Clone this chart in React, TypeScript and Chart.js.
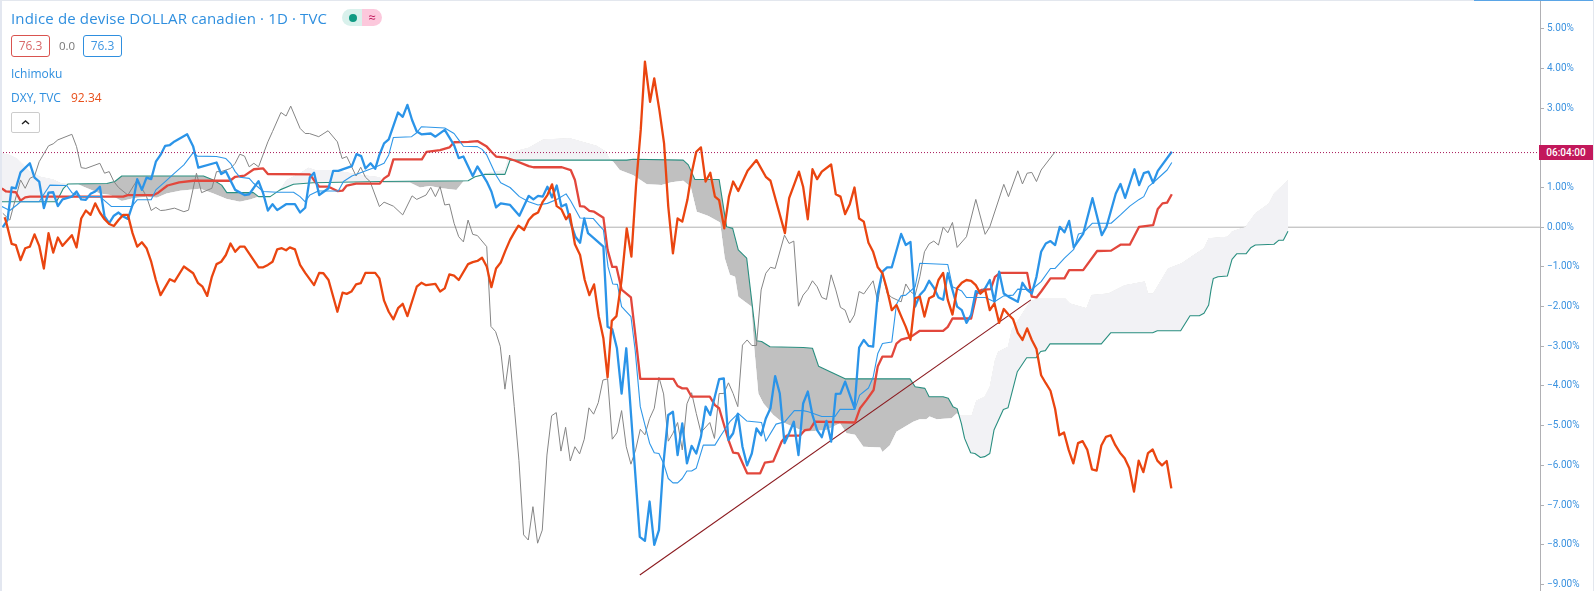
import React, { useEffect, useRef } from "react";
import { Chart, registerables } from "chart.js";

Chart.register(...registerables);

type P = [number, number];

// [session index, % change]
const dxyComparison: P[] = [[1,0.25],[1.3,0.14],[2.5,-0.42],[3.4,-0.45],[4.4,-0.83],[5.4,-0.53],[6.4,-0.49],[7.4,-0.18],[8.4,-0.47],[9.4,-1.04],[10.4,-0.15],[11.4,-0.64],[12.4,-0.26],[13.4,-0.47],[15.4,-0.2],[16.4,-0.51],[17.4,0.22],[18.4,0.42],[19.4,0.31],[20.4,0.6],[21.4,0.37],[22.4,0.2],[23.4,0.08],[24.4,0.03],[25.4,0.18],[26.4,0.31],[27.4,0.31],[28.4,-0.15],[29.4,-0.49],[30.4,-0.38],[31.4,-0.53],[32.4,-0.87],[33.4,-1.33],[34.4,-1.71],[35.4,-1.51],[36.4,-1.31],[37.4,-1.37],[39.4,-0.99],[41.4,-1.16],[42.4,-1.4],[43.4,-1.5],[44.4,-1.73],[45.4,-1.25],[46.4,-0.93],[47.4,-0.87],[48.4,-0.7],[49.4,-0.41],[50.4,-0.62],[51.4,-0.49],[52.4,-0.49],[55.4,-1.01],[56.4,-1.01],[57.4,-0.95],[58.4,-0.87],[59.4,-0.56],[60.4,-0.53],[61.3,-0.58],[62.1,-0.51],[63.2,-0.56],[64.3,-0.95],[65.4,-1.15],[67.3,-1.46],[68.4,-1.15],[69.3,-1.16],[70.4,-1.33],[72.3,-2.13],[73.4,-1.65],[74.3,-1.68],[75.3,-1.62],[76.3,-1.44],[77.3,-1.41],[78.3,-1.15],[80.4,-1.15],[81.3,-1.29],[82.3,-1.85],[83.3,-2.13],[84.3,-2.32],[85.3,-2.04],[86.3,-1.93],[87.3,-2.24],[89.3,-1.5],[90.3,-1.4],[91.3,-1.46],[93.3,-1.43],[94.3,-1.62],[95.3,-1.54],[96.3,-1.19],[97.3,-1.22],[98.3,-1.33],[100.3,-0.93],[101.3,-0.88],[102.3,-0.85],[103.3,-0.77],[104.3,-0.99],[105.3,-1.51],[106.3,-1.04],[107.3,-0.89],[108.3,-0.59],[109.3,-0.32],[110.3,-0.11],[111.1,0.04],[112.3,-0.07],[113.3,0.18],[114.3,0.31],[115.3,0.37],[116.3,0.64],[117.3,0.81],[118.3,1.08],[119.3,0.53],[120.3,0.45],[121.3,0.2],[122.1,0.33],[123.2,-0.43],[124.3,-0.7],[125.3,-1.33],[126.3,-1.71],[127.3,-1.44],[128.3,-2.25],[129.3,-2.8],[130.2,-3.78],[131.1,-2.36],[132.1,-2.24],[133.2,-1.33],[134.3,-0.03],[135.3,-0.74],[136.3,1.06],[137.3,2.45],[138.2,4.17],[139.3,3.16],[140.2,3.75],[141.3,2.95],[142.3,2.11],[143.2,0.52],[144.2,-0.66],[145.2,0.22],[146.2,0.14],[147.3,0.69],[148.2,1.36],[149.2,1.9],[150.2,2.01],[151.2,1.15],[152.2,1.37],[153.2,0.77],[154.1,0.68],[155.2,-0.03],[156.2,0.77],[157.1,1.15],[158.2,0.91],[160.2,1.42],[162.1,1.69],[164.1,1.27],[165.1,1.17],[168.2,-0.15],[169.1,0.73],[171.2,1.4],[172.1,1.02],[173.1,0.2],[174.1,1.46],[175.1,1.21],[176.1,1.4],[178.1,1.58],[179.1,0.83],[180.1,0.77],[181.1,0.33],[182.1,0.58],[183.1,1.0],[184.1,0.22],[185.1,0.14],[186.1,-0.39],[187.1,-0.62],[188.1,-1.01],[189.1,-1.16],[190.1,-1.58],[191.1,-2.09],[192.1,-1.96],[193.1,-2.24],[194.1,-2.51],[195.1,-2.84],[196.1,-1.79],[197.1,-1.75],[198.1,-2.25],[199.1,-1.79],[200.1,-1.73],[201.1,-1.33],[202.1,-1.15],[203.1,-1.83],[204.1,-2.2],[205.1,-1.54],[206.1,-1.4],[207.1,-1.33],[208.1,-1.35],[209.1,-1.46],[210.1,-1.67],[211.1,-1.57],[212.1,-2.09],[213.1,-1.92],[214.1,-2.41],[215.1,-2.06],[216.1,-2.2],[217.1,-2.32],[218.1,-2.66],[219.1,-2.84],[220.1,-2.55],[221.1,-2.84],[222.1,-3.07],[223.1,-3.73],[224.1,-3.93],[225.1,-4.12],[226.1,-4.58],[227,-5.24],[228,-5.17],[229,-5.61],[230,-5.95],[231,-5.44],[232,-5.39],[233,-5.61],[234,-6.1],[235,-6.13],[236,-5.5],[237,-5.28],[238,-5.24],[239,-5.49],[240,-5.68],[241,-5.82],[242,-6.07],[243,-6.66],[244,-5.88],[245,-6.17],[246,-5.69],[247,-5.6],[248,-5.88],[249,-6.0],[250,-5.89],[251,-6.58]];

const closeLine: P[] = [[0.6,0],[1.6,0.18],[2.5,1.0],[3.4,0.98],[4.4,1.38],[6.4,1.61],[7.4,1.25],[8.4,1.15],[9.4,0.48],[10.4,0.87],[11.4,0.88],[12.4,0.53],[13.4,0.7],[15.4,0.77],[16.4,0.9],[17.4,0.7],[18.4,0.69],[19.4,0.84],[20.4,0.9],[21.4,1.02],[22.4,0.27],[23.4,0.1],[24.4,0.29],[25.4,0.37],[26.4,0.27],[27.4,0.21],[28.4,0.56],[29.4,1.21],[30.4,0.94],[31.4,1.25],[32.4,1.21],[33.4,1.65],[34.4,1.82],[35.4,2.05],[36.4,2.07],[37.4,2.16],[40.1,2.34],[41.4,2.03],[42.5,1.5],[46.4,1.63],[47.4,1.34],[48.4,1.41],[50.4,0.94],[52.4,0.81],[53.4,0.83],[55.4,1.16],[56.4,0.85],[57.4,0.42],[58.4,0.58],[59.4,0.43],[61.3,0.58],[63.2,0.58],[64.3,0.37],[65.4,0.49],[66.4,1.26],[67.3,1.37],[68.4,0.81],[70.4,0.98],[71.4,1.42],[72.5,1.42],[75.4,1.54],[76.4,1.84],[77.4,1.79],[78.3,1.48],[79.4,1.61],[80.4,1.47],[81.3,1.82],[82.3,2.11],[83.3,2.21],[85.3,2.89],[86.3,2.78],[87.3,3.08],[88.3,2.7],[89.3,2.41],[90.3,2.34],[92.3,2.36],[93.3,2.28],[95.3,2.45],[97.3,2.07],[98.3,1.74],[99.3,1.78],[101.3,1.29],[102.3,1.53],[104.3,1.15],[105.3,0.9],[106.3,0.5],[107.3,0.6],[109.3,0.56],[111.3,0.29],[113.3,0.79],[114.3,0.7],[115.3,0.79],[116.3,0.77],[117.3,1.02],[118.3,0.75],[119.3,1.05],[120.3,0.52],[121.3,0.58],[122.3,0.1],[123.3,-0.24],[124.3,-0.39],[125.2,0.22],[126,-0.15],[127.3,-0.28],[129.3,-0.49],[130.2,-2.51],[131.2,-2.57],[132.2,-3.05],[133.2,-4.19],[134.2,-3.05],[137.1,-7.8],[138.2,-7.9],[139.2,-6.91],[140.2,-8.0],[141.2,-7.63],[142.1,-6.03],[143.2,-4.73],[144.2,-4.65],[145.2,-5.74],[146.2,-4.94],[147.2,-5.95],[148.2,-5.51],[149.2,-5.7],[150.2,-5.28],[151.2,-4.52],[152.2,-4.73],[154.1,-3.83],[155.1,-3.81],[156.1,-5.36],[157.1,-5.19],[158.1,-4.7],[159.1,-5.53],[160.1,-6.0],[161.1,-5.7],[162.1,-5.07],[163.1,-5.24],[164.1,-4.82],[165.1,-4.56],[166.1,-3.75],[167.1,-4.19],[168.1,-5.44],[169.1,-5.19],[170.1,-4.9],[171.1,-5.74],[172.1,-4.44],[173.1,-4.14],[174.1,-4.73],[175.1,-5.11],[176.1,-5.29],[177.1,-4.88],[178.1,-5.4],[179.1,-4.2],[180.1,-4.19],[181.1,-3.89],[183.1,-4.56],[184.1,-3.03],[185.1,-2.84],[186.1,-2.99],[187.1,-3.01],[188.1,-1.67],[189.1,-1.12],[190.1,-1.01],[191.1,-1.01],[193.1,-0.17],[194.1,-0.45],[195.1,-0.37],[196.1,-2.0],[197.1,-1.71],[198.1,-1.58],[199.1,-1.35],[200.1,-1.52],[201.1,-1.77],[202.1,-1.83],[203.1,-1.16],[204.1,-1.58],[205.1,-2.0],[206.1,-2.09],[207.1,-2.41],[208.1,-2.21],[209.1,-1.61],[210.1,-1.67],[211.1,-1.54],[212.1,-1.33],[213.1,-1.88],[214.1,-1.12],[215.1,-1.67],[216.1,-1.75],[218.1,-1.88],[219.1,-1.4],[220.1,-1.58],[221.1,-1.67],[222.1,-1.25],[223.1,-0.62],[224.1,-0.41],[225.1,-0.35],[226.1,-0.45],[227.1,0.01],[228.1,-0.13],[229.1,0.16],[230.1,-0.51],[232.1,-0.17],[234.1,0.73],[236.1,-0.2],[237.1,0.01],[239.1,0.85],[240.1,1.09],[241.1,0.74],[243.1,1.46],[244.1,1.06],[245.1,1.36],[246.1,1.4],[247.1,1.12],[248.1,1.42],[251.1,1.9]];

const laggingSpan: P[] = [[0.6,0.35],[2.1,0.18],[4.4,1.19],[5.4,0.98],[6.4,1.23],[7.4,1.29],[8.4,1.65],[10.4,2.05],[11.4,2.1],[12.4,2.2],[15.4,2.34],[16.4,2.03],[17.4,1.5],[18.4,1.48],[21.4,1.61],[22.4,1.36],[23.4,1.4],[24.4,1.15],[25.4,1.0],[27.4,0.81],[29.4,1.19],[31.4,0.77],[32.4,0.42],[33.4,0.5],[34.4,0.42],[35.4,0.43],[37.4,0.48],[39.4,0.39],[40.4,0.43],[42.1,1.36],[43.2,0.87],[45.4,0.98],[46.4,1.4],[47.4,1.4],[49.4,1.48],[50.4,1.61],[51.4,1.84],[52.4,1.79],[53.4,1.52],[54.4,1.61],[55.4,1.52],[57.4,2.15],[58.4,2.41],[60.2,2.89],[61.3,2.8],[62.3,3.05],[64.3,2.49],[65.4,2.36],[66.3,2.36],[68.3,2.28],[70.3,2.43],[72.3,2.15],[73.3,1.73],[74.3,1.78],[76.3,1.29],[77.3,1.51],[78.3,1.26],[79.3,1.15],[81.3,0.52],[82.3,0.63],[84.3,0.53],[86.3,0.31],[88.3,0.79],[89.3,0.7],[91.3,0.81],[92.3,1.0],[93.3,0.77],[94.3,1.02],[95.3,0.56],[96.3,0.58],[97.3,0.1],[98.3,-0.24],[99.3,-0.37],[100.3,0.18],[101.3,-0.18],[102.3,-0.21],[104.3,-0.49],[105.2,-2.5],[106.2,-2.63],[107.2,-3.0],[108.2,-4.08],[109.2,-3.22],[110.2,-4.52],[111.2,-5.87],[112.2,-7.75],[113.2,-7.88],[114.2,-7.04],[115.2,-7.96],[116.2,-7.63],[117.2,-5.74],[118.2,-4.75],[119.2,-4.67],[120.2,-5.64],[121.2,-5.04],[122.2,-5.89],[123.2,-5.53],[124.2,-5.71],[125.2,-5.34],[126.2,-4.55],[127.2,-4.71],[128.2,-4.42],[129.2,-3.85],[130.2,-3.82],[131.2,-5.34],[132.2,-5.18],[133.2,-4.62],[134.2,-5.53],[135.2,-5.97],[136.2,-5.61],[137.2,-5.09],[138.2,-5.23],[139.2,-4.82],[140.2,-4.56],[141.2,-3.78],[142.2,-4.2],[143.2,-5.39],[144.2,-5.19],[145.2,-4.92],[146.2,-5.61],[147.2,-4.45],[148.2,-4.17],[149.2,-4.69],[150.2,-5.17],[152.1,-4.92],[153.1,-5.32],[154.1,-4.19],[155.1,-4.19],[156.1,-3.92],[157.1,-4.19],[158.1,-4.52],[159.1,-2.97],[160.1,-2.84],[161.1,-2.98],[162.1,-2.98],[163.1,-1.58],[164.1,-1.16],[165.1,-1.01],[166.1,-1.04],[168.1,-0.2],[169.1,-0.41],[170.1,-0.35],[171.1,-1.99],[172.1,-1.71],[173.1,-1.57],[174.1,-1.35],[175.1,-1.5],[176.1,-1.77],[177.1,-1.82],[178.1,-1.2],[179.1,-1.58],[180.1,-2.02],[181.1,-2.09],[182.1,-2.41],[183.1,-2.21],[184.1,-1.62],[185.1,-1.68],[187.1,-1.35],[188.1,-1.88],[189.1,-1.15],[190.1,-1.67],[191.1,-1.77],[193.1,-1.88],[194.1,-1.43],[195.1,-1.62],[196.1,-1.71],[197.1,-1.25],[198.1,-0.62],[199.1,-0.42],[200.1,-0.35],[201.1,-0.45],[202.1,0],[203.1,-0.14],[204.1,0.12],[205.1,-0.51],[207.1,-0.24],[209.1,0.7],[211.1,-0.18],[212.1,0.01],[215.1,1.08],[216.1,0.77],[218.1,1.42],[219.1,1.09],[220.1,1.36],[221.1,1.38],[222.1,1.15],[223.1,1.44],[226.1,1.9]];

const baseLine: P[] = [[0.4,0.98],[1.3,0.9],[3.4,0.88],[4.4,0.67],[5.4,0.75],[6.4,0.77],[26.4,0.77],[27.4,0.81],[32.9,0.81],[33.9,0.87],[35.9,1.05],[38.4,1.13],[41.4,1.17],[49.3,1.17],[50.4,1.27],[52.4,1.3],[54.4,1.46],[56.4,1.48],[57.4,1.34],[66.4,1.33],[67.5,1.15],[68.4,1.02],[70.4,1.02],[72.3,0.91],[73.4,0.92],[74.3,1.05],[76.3,1.1],[81.4,1.1],[82.3,1.23],[83.3,1.31],[84.3,1.71],[90.4,1.71],[91.4,1.9],[94.3,1.94],[96.3,2.01],[97.3,2.14],[100.4,2.15],[102.3,2.17],[104.3,2.03],[105.3,1.9],[106.3,1.78],[108.3,1.75],[110.3,1.68],[113.3,1.54],[114.3,1.51],[120.4,1.51],[122.3,1.44],[123.2,1.19],[124.3,0.53],[125.2,0.52],[126.3,0.41],[127.3,0.39],[129.3,0.24],[130.2,-0.57],[131.2,-1.0],[132.1,-1.0],[133.2,-1.57],[135.2,-1.77],[136.1,-2.67],[137.2,-3.82],[144.3,-3.82],[145.2,-4.0],[146.2,-4.06],[147.2,-4.06],[148.2,-4.27],[152.1,-4.27],[153.2,-4.48],[154.1,-4.56],[156.1,-5.36],[157.1,-5.68],[158.2,-5.7],[160.1,-6.2],[162.9,-6.2],[163.9,-5.93],[165.7,-5.9],[167.5,-5.4],[168.6,-5.25],[171.4,-5.25],[172.5,-5.11],[173.6,-5.09],[174.6,-4.9],[183.2,-4.92],[184.3,-4.56],[185.7,-4.35],[187.2,-4.1],[188.1,-3.5],[189.1,-3.26],[191.1,-3.26],[192.1,-2.93],[193.1,-2.83],[195.1,-2.77],[197.1,-2.61],[202.1,-2.61],[203.1,-2.51],[204.1,-2.3],[208.1,-2.3],[209.3,-1.67],[210.3,-1.58],[212.3,-1.56],[213.2,-1.25],[214.3,-1.15],[220.1,-1.15],[221.1,-1.75],[222.1,-1.77],[223.1,-1.62],[225.1,-1.29],[228.1,-1.29],[229.1,-1.08],[232.1,-1.08],[235.1,-0.6],[238.1,-0.59],[240.1,-0.44],[242.1,-0.44],[244.1,0.01],[247.1,0.05],[248.1,0.46],[249.1,0.6],[250.1,0.62],[251.1,0.83]];

const conversionLine: P[] = [[0.4,0.52],[2.1,0.42],[3.6,0.56],[4.4,0.64],[8.4,0.64],[9.5,0.85],[10.7,1.06],[14.3,1.05],[15.4,0.87],[17.1,0.77],[21.4,0.77],[23.9,0.52],[28.2,0.52],[29.4,0.69],[32.4,0.69],[33.4,0.94],[35.4,1.15],[37.4,1.36],[39.4,1.57],[41.4,1.88],[42.3,1.79],[46.4,1.78],[48.4,1.73],[49.4,1.61],[50.4,1.4],[51.4,1.26],[53.4,1.23],[54.4,1.1],[56.4,0.9],[59.4,0.88],[62.9,0.88],[64.3,0.77],[65.4,0.64],[66.4,0.81],[68.2,0.91],[72.5,0.91],[73.6,1.15],[75.4,1.29],[80.4,1.51],[82.3,1.61],[83.3,1.82],[84.3,2.26],[88.2,2.28],[89.3,2.38],[90.3,2.53],[95.3,2.5],[97.3,2.36],[98.3,2.2],[99.3,2.04],[102.3,2.03],[103.3,1.96],[104.3,1.82],[106.3,1.31],[107.3,1.12],[109.3,1.0],[111.3,0.77],[113.3,0.64],[115.3,0.56],[117.3,0.6],[119.3,0.7],[121.3,0.84],[122.3,0.66],[124.3,0.23],[127.1,0.22],[128.3,0.06],[129.3,-0.07],[130.3,-1.0],[131.3,-1.43],[132.3,-1.44],[133.2,-2.0],[135.2,-2.25],[136.1,-3.09],[137.2,-4.52],[138.2,-4.98],[139.2,-5.44],[140.2,-5.68],[141.2,-5.7],[142.2,-5.95],[143.2,-6.33],[144.2,-6.44],[145.2,-6.44],[146.2,-6.33],[147.2,-6.14],[148.2,-6.14],[149.2,-6.07],[150.7,-5.49],[153.2,-5.49],[154.3,-5.28],[156.4,-4.9],[158.2,-4.69],[160,-4.88],[163.2,-4.92],[164.1,-5.39],[166.3,-4.96],[168.2,-4.9],[170.2,-4.62],[172.1,-4.62],[173.2,-4.65],[176.1,-4.77],[178.9,-4.77],[180,-4.59],[183.2,-4.59],[184.2,-4.23],[186.1,-4.05],[187.1,-3.78],[188.1,-3.18],[189.1,-2.93],[191.1,-2.89],[192.1,-1.94],[193.1,-1.73],[194.1,-1.71],[196.1,-1.5],[197.1,-0.91],[203.1,-0.94],[204.1,-1.5],[206.1,-1.61],[207.1,-1.77],[211.1,-1.77],[213.1,-1.88],[215.1,-1.73],[217.1,-1.71],[218.1,-1.56],[221.1,-1.57],[223.1,-1.37],[225.1,-1.04],[226.1,-1.04],[228.1,-0.78],[230.1,-0.56],[231.1,-0.17],[232.1,-0.14],[234.1,0.1],[238.1,0.1],[240.1,0.31],[242.1,0.53],[244.1,0.7],[245.1,0.77],[246.1,1.02],[247.1,1.12],[250.1,1.44],[251.1,1.63]];

const leadingSpanGreen: P[] = [[0.4,0.64],[12.1,0.64],[13.6,0.98],[14.6,1.09],[22.9,1.1],[24.6,1.15],[26.1,1.29],[43.6,1.29],[45.7,1.19],[47.5,1.06],[48.6,0.87],[54.3,0.87],[55.4,0.77],[57.9,0.77],[60,0.94],[62.9,1.08],[67.1,1.12],[81.4,1.15],[100.3,1.17],[101.8,1.27],[103.9,1.33],[108.2,1.33],[109.3,1.69],[134.3,1.69],[135.7,1.71],[146.4,1.69],[147.5,1.57],[148.9,1.2],[154.1,1.2],[155.7,0.01],[157,-0.03],[158.2,-0.57],[160,-0.78],[162.1,-2.86],[163.2,-2.88],[165,-3.01],[172.1,-3.03],[174.1,-3.05],[175.4,-3.5],[177.9,-3.64],[181.1,-3.82],[195,-3.82],[196.1,-4.02],[198.2,-4.06],[199.1,-4.27],[202.1,-4.27],[203.2,-4.31],[204.2,-4.52],[205.1,-4.57],[206,-4.94],[206.7,-5.32],[208,-5.68],[208.9,-5.7],[210.1,-5.8],[211,-5.78],[212.1,-5.7],[213,-5.11],[215,-4.59],[216,-4.55],[218,-3.64],[220,-3.29],[222,-3.29],[223,-3.13],[224,-3.11],[225,-2.94],[236,-2.94],[238,-2.66],[247,-2.66],[248,-2.61],[253,-2.61],[255,-2.23],[257,-2.23],[258,-2.17],[259,-1.96],[259.5,-1.58],[260,-1.29],[261,-1.25],[263,-1.23],[264,-0.81],[265,-0.67],[267,-0.67],[268,-0.52],[269,-0.45],[273,-0.43],[274,-0.33],[275,-0.33],[276,-0.1]];

const leadingSpanOther: P[] = [[0.4,1.86],[2.1,1.82],[3.6,1.73],[5,1.57],[6.1,1.42],[8.6,1.27],[11.4,1.2],[13.2,1.1],[14.6,1.09],[16.4,1.1],[17.9,1.02],[19.6,0.94],[21.4,0.85],[23.6,0.81],[26.1,0.66],[28.6,0.73],[31.4,0.77],[33.6,0.74],[35.7,0.85],[38.6,0.92],[42.9,0.97],[45.7,0.85],[48.6,0.71],[51.4,0.64],[53.6,0.7],[55.4,0.77],[57.9,0.77],[60,0.94],[61.4,1.19],[64.3,1.36],[66.1,1.5],[67.5,1.44],[71.1,1.44],[77.9,1.31],[81.4,1.26],[81.8,1.15],[82.1,1.12],[87.9,1.12],[90,1.0],[92.1,1.04],[94.6,0.98],[97.8,0.94],[99.3,1.15],[100.3,1.17],[101.8,1.27],[104.3,1.36],[108.2,1.44],[109.3,1.88],[113.3,2.0],[116.4,2.21],[122.1,2.24],[127.8,2.05],[129.9,1.9],[130.7,1.69],[131.4,1.65],[132.8,1.44],[135.7,1.31],[138.6,1.08],[141.8,1.06],[143.9,1.13],[146.4,1.17],[148,1.02],[149.3,0.39],[151.8,0.28],[154.3,0.12],[154.6,-0.15],[155.3,-0.78],[156.4,-1.2],[157.5,-1.25],[158.2,-1.75],[161,-2.0],[161.6,-3.01],[162.5,-4.19],[163.6,-4.44],[165.7,-4.73],[167.5,-4.9],[170,-5.03],[172.5,-5.15],[177.1,-5.11],[180,-4.94],[181.4,-5.19],[183.2,-5.23],[185,-5.53],[188.6,-5.55],[189.1,-5.66],[190.7,-5.49],[192.1,-5.15],[195.7,-4.9],[197.1,-4.84],[198.5,-4.84],[199.2,-4.77],[200.7,-4.84],[203.9,-4.81],[205,-4.69],[206,-4.75],[208.2,-4.75],[209.2,-4.37],[211,-4.27],[212.1,-4.02],[213.2,-3.35],[213.9,-3.14],[216,-3.01],[216.8,-2.59],[220.7,-1.88],[222.5,-1.79],[228.2,-1.79],[229.3,-1.92],[232.8,-2.04],[233.9,-1.71],[237.5,-1.67],[241,-1.46],[245.3,-1.37],[246,-1.67],[247.1,-1.67],[250.3,-1.04],[253.2,-0.91],[255.8,-0.7],[258,-0.53],[259,-0.28],[263,-0.24],[264,-0.11],[266.9,0.01],[269,0.35],[271.9,0.6],[273,0.85],[276,1.19]];

const trendLine: P[] = [[137.1,-8.76],[220.9,-1.83]];
const yTicks = [5, 4, 3, 1, 0, -1, -2, -3, -4, -5, -6, -7, -8, -9];
const lastPricePct = 1.88;
const visibleBars = 330;

const toXY = (s: P[]) => s.map(([x, y]) => ({ x, y }));

const FONT = "'Open Sans', sans-serif";
const BLUE = "#2f8fdf";

export default function App() {
  const ref = useRef<HTMLCanvasElement | null>(null);
  useEffect(() => {
    document.body.style.margin = "0";
    document.body.style.background = "#fff";
    const line = (data: P[], color: string, width: number, order: number, extra: object = {}) => ({
      data: toXY(data), borderColor: color, borderWidth: width, pointRadius: 0, tension: 0,
      fill: false, order, borderJoinStyle: "round", ...extra,
    });
    const chart = new Chart(ref.current as HTMLCanvasElement, {
      type: "line",
      data: {
        datasets: [
          line(leadingSpanOther, "rgba(0,0,0,0)", 0, 9),
          line(leadingSpanGreen, "#2a8f80", 1.1, 8, {
            fill: { target: 0, above: "#c0c0c0", below: "#f2f2f5" },
          }),
          line(laggingSpan, "#858585", 1, 7),
          line(trendLine, "#8b1a1f", 1.1, 6),
          line(baseLine, "#e2473c", 2.3, 5),
          line(conversionLine, "#2f97e8", 1.1, 4),
          line(closeLine, "#2b94e8", 2.3, 3),
          line(dxyComparison, "#ea4510", 2.3, 2),
          line([[0, 0], [visibleBars, 0]], "#b0b0b0", 1, 10),
          line([[0, lastPricePct], [visibleBars, lastPricePct]], "#a8185a", 1, 1, { borderDash: [1, 2] }),
        ] as any,
      },
      options: {
        responsive: false,
        animation: false,
        events: [],
        layout: { padding: 0 },
        plugins: { legend: { display: false }, tooltip: { enabled: false } },
        scales: {
          x: { type: "linear", display: false, min: 0, max: visibleBars },
          y: {
            position: "right",
            min: -9.164,
            max: 5.723,
            afterBuildTicks: (ax: any) => { ax.ticks = yTicks.map((value) => ({ value })); },
            afterFit: (ax: any) => {
              ax.width = 54;
              ax.paddingTop = 0;
              ax.paddingBottom = 0;
            },
            border: { color: "#b0b0b4", width: 1 },
            grid: { drawOnChartArea: false, tickLength: 4, color: "#b0b0b4" },
            ticks: {
              color: "#3a92e0",
              padding: 3,
              autoSkip: false,
              maxRotation: 0,
              font: { family: "Roboto, sans-serif", size: 10 },
              callback: (v: any) => `${Number(v) < 0 ? "\u2212" : ""}${Math.abs(Number(v)).toFixed(2)}%`,
            },
          },
        },
      } as any,
    });
    return () => chart.destroy();
  }, []);

  const abs = (left: number, top: number, extra: React.CSSProperties = {}): React.CSSProperties => ({
    position: "absolute", left, top, fontFamily: FONT, whiteSpace: "nowrap", ...extra,
  });
  const box = (left: number, color: string, text: string, textColor: string) => (
    <div style={abs(left, 35, { width: 39, height: 22, boxSizing: "border-box", border: `1px solid ${color}`, borderRadius: 3, color: textColor, fontSize: 12, lineHeight: "20px", textAlign: "center" })}>{text}</div>
  );

  return (
    <div style={{ position: "relative", width: 1594, height: 591, overflow: "hidden", background: "#fff" }}>
      <canvas ref={ref} width={1594} height={591} style={{ position: "absolute", left: 0, top: 0, display: "block" }} />
      <div style={abs(0, 0, { width: 2, height: 591, background: "#e3e7f0" })} />
      <div style={abs(0, 0, { width: 1594, height: 1, background: "#e3e7ee" })} />
      <div style={abs(1474, 0, { width: 120, height: 1, background: "#5aa5e6" })} />
      <div style={abs(1593, 0, { width: 1, height: 591, background: "#e3e7ee" })} />
      <div style={abs(11, 8, { fontSize: 15, letterSpacing: "0.15px", lineHeight: "21px", color: BLUE })}>Indice de devise DOLLAR canadien · 1D · TVC</div>
      <div style={abs(342, 9, { width: 20, height: 17, background: "#d9f1ec", borderRadius: "9px 0 0 9px" })} />
      <div style={abs(362, 9, { width: 20, height: 17, background: "#fcc8dc", borderRadius: "0 9px 9px 0", color: "#c2185b", fontSize: 13, lineHeight: "16px", textAlign: "center" })}>≈</div>
      <div style={abs(349, 14, { width: 8, height: 8, background: "#0f9a83", borderRadius: 4 })} />
      {box(11, "#d9534f", "76.3", "#d8696a")}
      <div style={abs(59, 35, { fontSize: 11.5, lineHeight: "22px", color: "#777" })}>0.0</div>
      {box(83, "#2f8fdf", "76.3", "#3f97e2")}
      <div style={abs(11, 65, { fontSize: 12, lineHeight: "18px", color: BLUE })}>Ichimoku</div>
      <div style={abs(11, 89, { fontSize: 12, lineHeight: "18px", color: BLUE })}>DXY, TVC</div>
      <div style={abs(71, 89, { fontSize: 12, lineHeight: "18px", color: "#e8501c" })}>92.34</div>
      <div style={abs(11, 112, { width: 29, height: 21, boxSizing: "border-box", border: "1px solid #ccc", borderRadius: 2, background: "#fff" })}>
        <svg width="27" height="19" style={{ display: "block" }}><polyline points="10,11 13.5,8 17,11" fill="none" stroke="#222" strokeWidth="1.4" /></svg>
      </div>
      <div style={abs(1539, 145, { width: 54, height: 15, background: "#c2185b", color: "#fff", fontFamily: "Roboto, sans-serif", fontSize: 10, fontWeight: 500, lineHeight: "15px", textAlign: "center" })}>06:04:00</div>
    </div>
  );
}
